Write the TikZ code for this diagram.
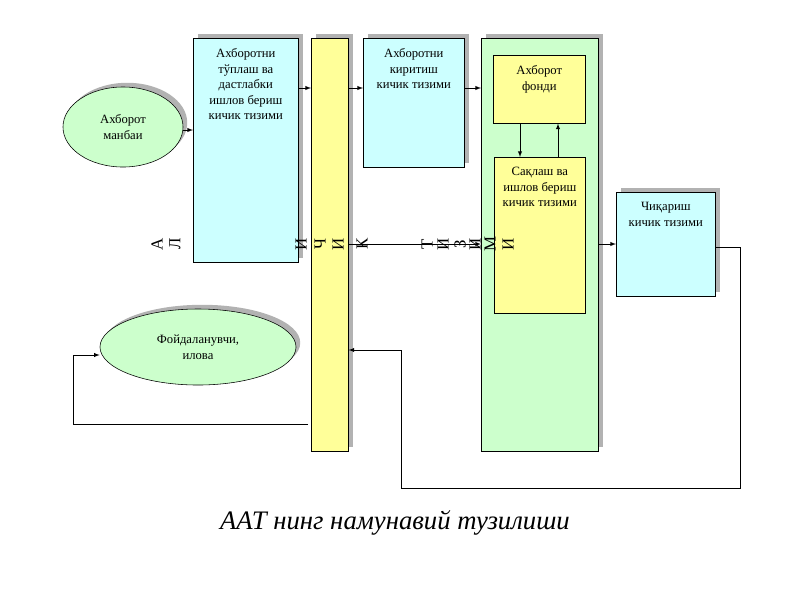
\documentclass[tikz,border=0pt]{standalone}
\usepackage{fontspec}
\setmainfont{Liberation Serif}
\usetikzlibrary{positioning,arrows,shadows,shapes.geometric}
\definecolor{bluef}{HTML}{CCFFFF}
\definecolor{yelf}{HTML}{FFFF99}
\definecolor{grnf}{HTML}{CCFFCC}
\begin{document}
\begin{tikzpicture}[x=0.025cm,y=-0.025cm,
  plain/.style={draw,anchor=north west,inner sep=0pt},
  box/.style={plain,
    drop shadow={shadow xshift=3pt,shadow yshift=3pt,fill=black!30,opacity=1}},
  lbl/.style={below=4pt of #1.north,align=center,font=\small},
  ell/.style={draw,ellipse,fill=grnf,inner sep=0pt,align=center,font=\small,
    drop shadow={shadow xshift=3pt,shadow yshift=3pt,fill=black!30,opacity=1}},
  letter/.style={rotate=90,font=\large},
  arr/.style={->,>=latex}]
\useasboundingbox (0,0) rectangle (800,600);
% boxes
\node[ell,minimum width=3cm,minimum height=2cm] (src) at (123,127) {Ахборот\\манбаи};
\node[box,fill=bluef,minimum width=2.625cm,minimum height=5.6cm] (pre) at (193,38) {};
\node[lbl=pre] (pret) {Ахборотни\\тўплаш ва\\дастлабки\\ишлов бериш\\кичик тизими};
\node[box,fill=yelf,minimum width=0.925cm,minimum height=10.325cm] (bar) at (311,38) {};
\node[box,fill=bluef,minimum width=2.525cm,minimum height=3.225cm] (inp) at (363,38) {};
\node[lbl=inp] (inpt) {Ахборотни\\киритиш\\кичик тизими};
\node[box,fill=grnf,minimum width=2.925cm,minimum height=10.325cm] (grn) at (481,38) {};
\node[plain,fill=yelf,minimum width=2.3cm,minimum height=1.7cm] (fund) at (493,55) {};
\node[lbl=fund] (fundt) {Ахборот\\фонди};
\node[plain,fill=yelf,minimum width=2.275cm,minimum height=3.9cm] (store) at (494,157) {};
\node[lbl=store] (storet) {Сақлаш ва\\ишлов бериш\\кичик тизими};
\node[box,fill=bluef,minimum width=2.475cm,minimum height=2.6cm] (out) at (616,192) {};
\node[lbl=out] (outt) {Чиқариш\\кичик тизими};
\node[ell,minimum width=4.9cm,minimum height=1.9cm] (usr) at (198,347) {Фойдаланувчи,\\илова};
% rotated letters
\foreach \ch/\xx in {А/157,Л/175,И/301,Ч/320,И/338,К/362,
                      Т/427,И/443,З/460,И/475,М/490,И/508}
  \node[letter] (l\xx) at (\xx,244) {\ch};
% connectors
\coordinate (a1) at (pre.west |- 0,130);
\draw[arr] (src.east |- a1) -- (a1);
\coordinate (a2) at (bar.west |- 0,88);
\draw[arr] (pre.east |- a2) -- (a2);
\coordinate (a3) at (inp.west |- 0,88);
\draw[arr] (bar.east |- a3) -- (a3);
\coordinate (a4) at (grn.west |- 0,88);
\draw[arr] (inp.east |- a4) -- (a4);
\coordinate (a5) at (grn.west |- 0,244);
\draw[arr] (bar.east |- a5) -- (a5);
\coordinate (a6) at (out.west |- 0,244);
\draw[arr] (grn.east |- a6) -- (a6);
\draw[arr] (fund.south -| 520,0) -- (store.north -| 520,0);
\draw[arr] (store.north -| 558,0) -- (fund.south -| 558,0);
\coordinate (b1) at (740,247);
\coordinate (b2) at (bar.east |- 0,350);
\draw[arr] (out.east |- b1) -- (b1) |- (401,488) |- (b2);
\coordinate (c1) at (usr.west |- 0,355);
\draw[arr] (308,424) -| (73,355) -- (c1);
\node[font=\fontsize{19}{22}\selectfont\itshape] (cap) at (395,523) {ААТ нинг намунавий тузилиши};
\end{tikzpicture}
\end{document}
